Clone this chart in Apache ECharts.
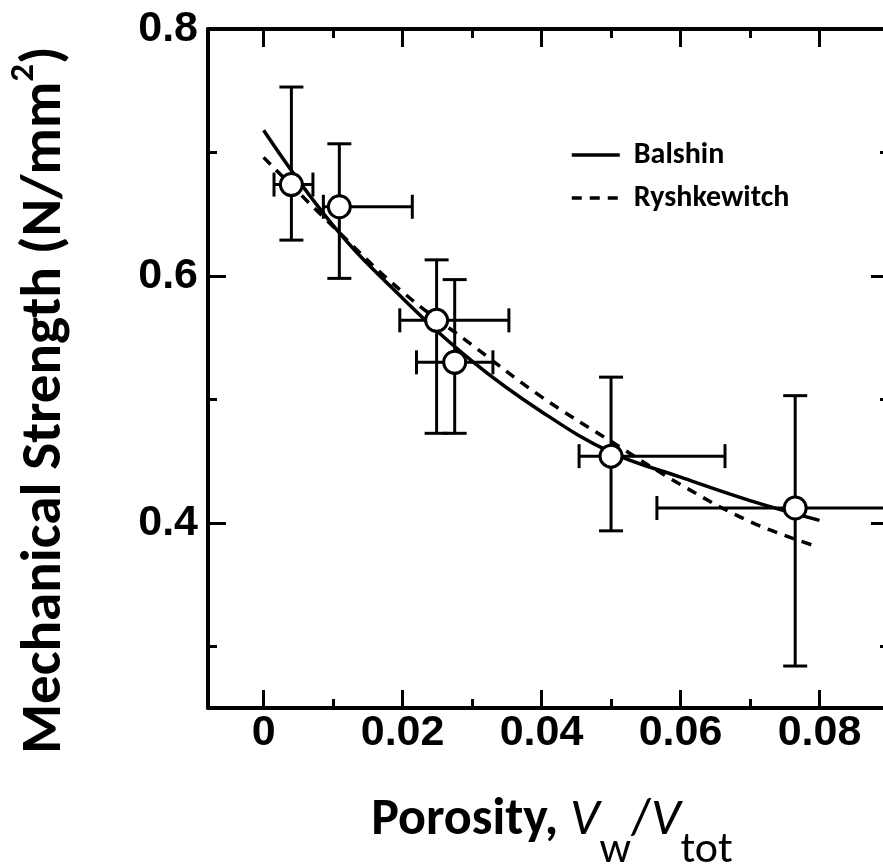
<!DOCTYPE html>
<html><head><meta charset="utf-8">
<script src="https://cdn.jsdelivr.net/npm/echarts@6/dist/echarts.min.js"></script>
<style>html,body{margin:0;padding:0;background:#fff}#c{width:883px;height:864px}</style>
</head><body><div id="c"></div>
<script>
// ---- tick values ----
const xMajor = [0, 0.02, 0.04, 0.06, 0.08];
const xMinor = [0.01, 0.03, 0.05, 0.07];
const yMajor = [0.4, 0.6, 0.8];
const yMinor = [0.3, 0.5, 0.7];
// ---- measured points with error bars ----
const porosity     = [0.0040, 0.0109, 0.0249, 0.0275, 0.0500, 0.0765];
const strength     = [0.674, 0.656, 0.564, 0.530, 0.454, 0.412];
const porosityLow  = [0.0015, 0.0086, 0.0196, 0.0220, 0.0454, 0.0566];
const porosityHigh = [0.0071, 0.0214, 0.0353, 0.0330, 0.0664, 0.0964];
const strengthLow  = [0.629, 0.598, 0.4725, 0.4725, 0.3935, 0.284];
const strengthHigh = [0.753, 0.707, 0.613, 0.597, 0.518, 0.503];
// ---- fitted curves ----
const balshinX = [0, 0.01, 0.02, 0.03, 0.04, 0.05, 0.06, 0.07, 0.08];
const balshinY = [0.718, 0.641, 0.582, 0.531, 0.490, 0.457, 0.437, 0.418, 0.402];
const ryshX = [0, 0.01, 0.02, 0.03, 0.04, 0.05, 0.06, 0.07, 0.0795];
const ryshY = [0.696, 0.640, 0.587, 0.544, 0.502, 0.466, 0.431, 0.401, 0.381];

const pts = porosity.map((x, i) => [x, strength[i]]);
const errs = porosity.map((x, i) => [x, strength[i], porosityLow[i], porosityHigh[i], strengthLow[i], strengthHigh[i]]);
const balshin = balshinX.map((x, i) => [x, balshinY[i]]);
const rysh = ryshX.map((x, i) => [x, ryshY[i]]);

const labelFont = { fontFamily: 'Liberation Sans, Arial, sans-serif', fontWeight: 'bold', fontSize: 43, color: '#000' };
const titleFont = 'Carlito, Lato, sans-serif';
const black = '#000';

function xAxisDef(pos, vals, len, showLine, showLabel) {
  return {
    type: 'value', gridIndex: 0, position: pos, min: -0.008, max: 0.09,
    axisLine: { show: showLine, onZero: false, lineStyle: { color: black, width: 4 } },
    axisTick: { show: true, inside: true, length: len, customValues: vals, lineStyle: { color: black, width: 3 } },
    axisLabel: Object.assign({ show: showLabel, customValues: vals, margin: 4,
      formatter: v => (v === 0 ? '0' : v.toFixed(2)) }, labelFont),
    splitLine: { show: false }
  };
}
function yAxisDef(pos, vals, len, showLine, showLabel) {
  return {
    type: 'value', gridIndex: 0, position: pos, min: 0.25, max: 0.8,
    axisLine: { show: showLine, onZero: false, lineStyle: { color: black, width: 4 } },
    axisTick: { show: true, inside: true, length: len, customValues: vals, lineStyle: { color: black, width: 3 } },
    axisLabel: Object.assign({ show: showLabel, customValues: vals, margin: 10,
      formatter: v => v.toFixed(1) }, labelFont),
    splitLine: { show: false }
  };
}

const chart = echarts.init(document.getElementById('c'), null, { renderer: 'canvas' });
chart.setOption({
  animation: false,
  backgroundColor: '#fff',
  grid: { left: 208, top: 29, width: 681, height: 679, outerBoundsMode: 'none', containLabel: false },
  xAxis: [
    xAxisDef('bottom', xMajor, 18, true, true),
    xAxisDef('bottom', xMinor, 9, false, false),
    xAxisDef('top', xMajor, 18, true, false),
    xAxisDef('top', xMinor, 9, false, false)
  ],
  yAxis: [
    yAxisDef('left', yMajor, 18, true, true),
    yAxisDef('left', yMinor, 9, false, false),
    yAxisDef('right', yMajor, 18, true, false),
    yAxisDef('right', yMinor, 9, false, false)
  ],
  legend: {
    orient: 'vertical', left: 570, top: 138, padding: 0,
    itemWidth: 48, itemHeight: 14, itemGap: 9,
    data: ['Balshin', 'Ryshkewitch'],
    itemStyle: { opacity: 0 },
    lineStyle: { width: 3.5 },
    textStyle: { fontFamily: titleFont, fontWeight: 'bold', fontSize: 30, color: black, lineHeight: 34, padding: [0, 0, 0, 9] }
  },
  graphic: [
    {
      type: 'text', x: 46, y: 400, rotation: Math.PI / 2,
      style: {
        text: '{b|Mechanical Strength (N/mm}{sup|2}{b|)}',
        align: 'center', verticalAlign: 'middle',
        rich: {
          b: { fontFamily: titleFont, fontWeight: 'bold', fontSize: 57, lineHeight: 78, fill: black },
          sup: { fontFamily: titleFont, fontWeight: 'bold', fontSize: 35, lineHeight: 20, verticalAlign: 'top', fill: black }
        }
      }
    },
    {
      type: 'text', x: 552, y: 821,
      style: {
        text: '{b|Porosity, }{i|V}{s|w}{r|/}{i|V}{s|tot}',
        align: 'center', verticalAlign: 'middle',
        rich: {
          b: { fontFamily: titleFont, fontWeight: 'bold', fontSize: 52, lineHeight: 64, fill: black },
          i: { fontFamily: titleFont, fontStyle: 'italic', fontSize: 52, lineHeight: 64, fill: black },
          r: { fontFamily: titleFont, fontSize: 52, lineHeight: 64, fill: black },
          s: { fontFamily: titleFont, fontSize: 44, lineHeight: 8, verticalAlign: 'top', padding: [40, 0, 0, 0], fill: black }
        }
      }
    }
  ],
  series: [
    {
      type: 'custom', name: 'errors', xAxisIndex: 0, yAxisIndex: 0, z: 2, clip: true,
      data: errs,
      renderItem: function (params, api) {
        const x = api.value(0), y = api.value(1);
        const c = api.coord([x, y]);
        const xl = api.coord([api.value(2), y])[0], xh = api.coord([api.value(3), y])[0];
        const yl = api.coord([x, api.value(4)])[1], yh = api.coord([x, api.value(5)])[1];
        const cap = 12;
        const st = { stroke: black, lineWidth: 3, fill: null };
        const L = (x1, y1, x2, y2) => ({ type: 'line', shape: { x1, y1, x2, y2 }, style: st });
        return {
          type: 'group', children: [
            L(c[0], yl, c[0], yh), L(c[0] - cap, yl, c[0] + cap, yl), L(c[0] - cap, yh, c[0] + cap, yh),
            L(xl, c[1], xh, c[1]), L(xl, c[1] - cap, xl, c[1] + cap), L(xh, c[1] - cap, xh, c[1] + cap)
          ]
        };
      }
    },
    {
      type: 'line', name: 'Balshin', data: balshin, smooth: 0.4, symbol: 'none', z: 3,
      lineStyle: { color: black, width: 3.5, type: 'solid' }, itemStyle: { color: black }
    },
    {
      type: 'line', name: 'Ryshkewitch', data: rysh, smooth: 0.4, symbol: 'none', z: 3,
      lineStyle: { color: black, width: 3.5, type: [10, 8] }, itemStyle: { color: black }
    },
    {
      type: 'scatter', name: 'data', data: pts, symbol: 'circle', symbolSize: 22, z: 4,
      itemStyle: { color: '#fff', borderColor: black, borderWidth: 3, opacity: 1 }
    }
  ]
});
</script></body></html>
